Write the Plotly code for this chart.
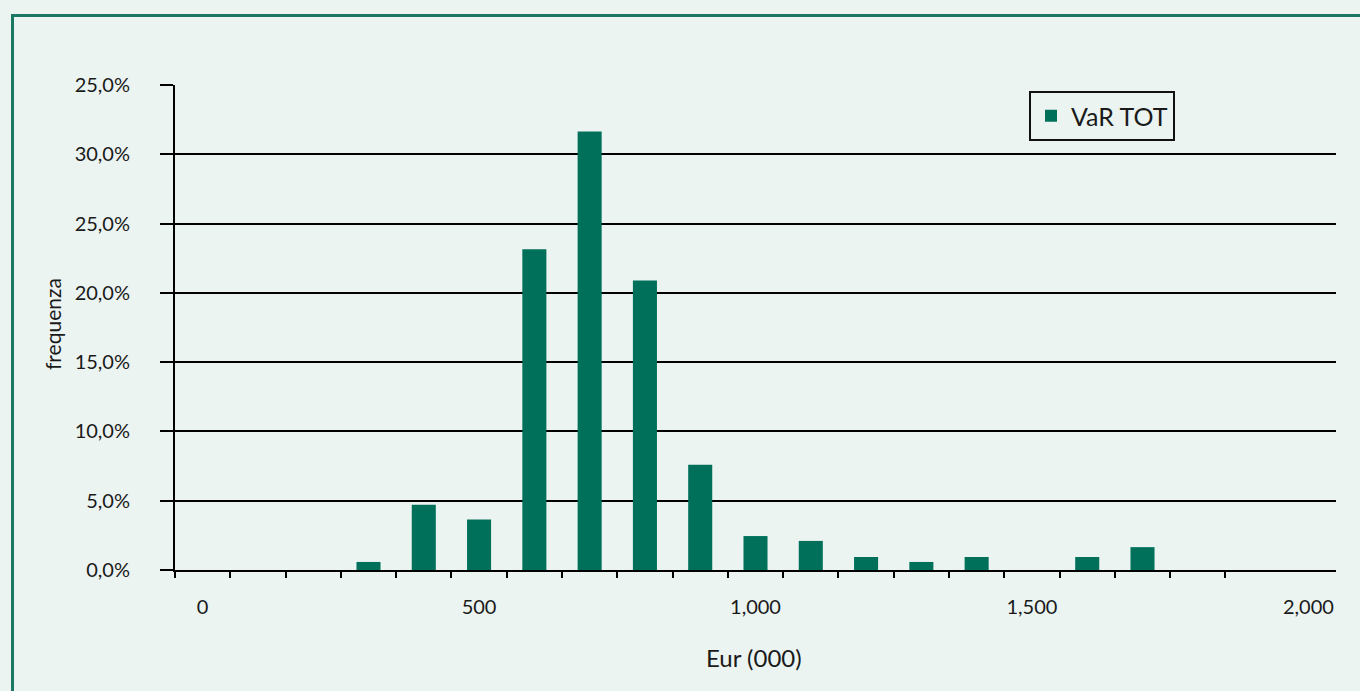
import plotly.graph_objects as go

# ---- data ----
categories = [0, 100, 200, 300, 400, 500, 600, 700, 800, 900, 1000,
              1100, 1200, 1300, 1400, 1500, 1600, 1700, 1800, 1900, 2000]
freq_pct = [0.0, 0.0, 0.0, 0.58, 4.7, 3.65, 23.15, 31.65, 20.9, 7.6, 2.45,
            2.1, 0.94, 0.58, 0.94, 0.0, 0.94, 1.65, 0.0, 0.0, 0.0]
series_name = "VaR TOT"
y_tickvals = [0.0, 0.05, 0.10, 0.15, 0.20, 0.25, 0.30, 0.35]
y_ticktext = ["0,0%", "5,0%", "10,0%", "15,0%", "20,0%", "25,0%", "30,0%", "25,0%"]
x_tickvals = [0, 500, 1000, 1500, 2000]
x_ticktext = ["0", "500", "1,000", "1,500", "2,000"]
x_boundaries = [c - 50 for c in categories[:-1]]

BG = "#ECF4F2"
BAR = "#00705A"
FRAME = "#1B7862"
FONT = "Lato"
TXT = "#1a1a1a"

W, H = 1360, 691
L, R, T, B = 175, 1360 - 1336, 85, 691 - 570
pw, ph = W - L - R, H - T - B

def px_x(x):
    return (x - L) / pw

def px_y(y):
    return (H - B - y) / ph

fig = go.Figure()
fig.add_trace(go.Bar(
    x=categories,
    y=[v / 100 for v in freq_pct],
    name=series_name,
    marker=dict(color=BAR, line=dict(width=0)),
    showlegend=True,
))

fig.update_layout(
    width=W, height=H,
    margin=dict(l=L, r=R, t=T, b=B),
    paper_bgcolor=BG, plot_bgcolor=BG,
    font=dict(family=FONT, color=TXT, size=20),
    bargap=0.565,
    showlegend=True,
    legend=dict(
        x=px_x(1029), y=px_y(91), xanchor="left", yanchor="top",
        bgcolor=BG, bordercolor="#111111", borderwidth=2,
        font=dict(size=25, family=FONT, color=TXT),
        itemclick=False,
    ),
    xaxis=dict(
        range=[-50, 2050],
        tickmode="array", tickvals=x_tickvals, ticktext=x_ticktext,
        ticks="", showgrid=False, zeroline=False,
        showline=True, linecolor="black", linewidth=2,
        ticklabelstandoff=18,
        tickfont=dict(size=20),
        minor=dict(tickmode="array", tickvals=x_boundaries, ticks="outside",
                   ticklen=6, tickwidth=2, tickcolor="black", showgrid=False),
    ),
    yaxis=dict(
        range=[0, 0.35],
        tickmode="array", tickvals=y_tickvals, ticktext=y_ticktext,
        ticks="outside", ticklen=13, tickwidth=2, tickcolor="black",
        showgrid=True, gridcolor="black", gridwidth=2,
        zeroline=False,
        showline=True, linecolor="black", linewidth=2,
        ticklabelstandoff=26,
        tickfont=dict(size=20),
    ),
    annotations=[
        dict(text="frequenza", xref="paper", yref="paper",
             x=px_x(52), y=px_y(324), textangle=-90, showarrow=False,
             font=dict(size=21, family=FONT, color=TXT),
             xanchor="center", yanchor="middle"),
        dict(text="Eur (000)", xref="paper", yref="paper",
             x=px_x(754), y=px_y(657), showarrow=False,
             font=dict(size=24, family=FONT, color=TXT),
             xanchor="center", yanchor="middle"),
    ],
    shapes=[
        dict(type="line", xref="paper", yref="paper",
             x0=px_x(12.5), x1=px_x(12.5), y0=px_y(14), y1=px_y(700),
             line=dict(color=FRAME, width=3)),
        dict(type="line", xref="paper", yref="paper",
             x0=px_x(11), x1=px_x(1370), y0=px_y(15.5), y1=px_y(15.5),
             line=dict(color=FRAME, width=3)),
    ],
)

fig.write_html(
    "out.html",
    config={"displayModeBar": False},
    post_script="document.body.style.margin='0';document.body.style.overflow='hidden';",
)
